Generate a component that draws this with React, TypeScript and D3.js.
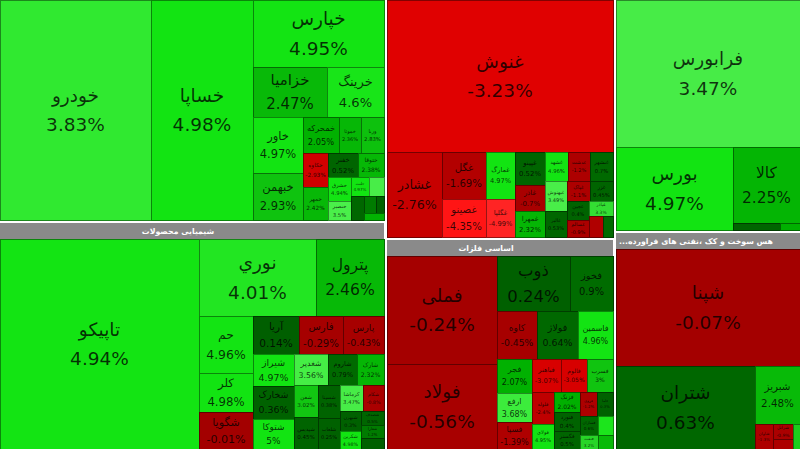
import React, { useEffect } from 'react';
import * as d3 from 'd3';

const W = 800;
const H = 449;
const HEADER_H = 16;

// خودرو و ساخت قطعات
const AUTO_NAMES = ['خودرو', 'خساپا', 'خپارس', 'خزامیا', 'خرینگ', 'خاور', 'خبهمن', 'خمحرکه', 'خموتا', 'ورنا',
  'خکاوه', 'خمهر', 'خفنر', 'ختوقا', 'خشرق', 'خنصیر', 'خلنت', 'خفولا', 'خچرخش', 'خعمرا', 'خریخت', 'خگستر'];
const AUTO_CHANGES = [3.83, 4.98, 4.95, 2.47, 4.6, 4.97, 2.93, 2.05, 2.36, 2.83,
  -2.93, 2.42, 0.52, 2.38, 4.94, 3.5, 4.97, 3.48, 0.61, 1.2, 0.4, 2.1];
const AUTO_WEIGHTS = [33000, 22440, 8777, 3650, 2850, 2750, 2350, 1260, 820, 815,
  810, 780, 700, 600, 575, 450, 330, 300, 300, 200, 150, 130];

// محصولات شیمیایی
const CHEM_NAMES = ['تاپیکو', 'نوري', 'پترول', 'حم', 'کلر', 'شگویا', 'آریا', 'فارس', 'پارس', 'شیراز', 'شخارک', 'شتوکا',
  'شغدیر', 'شاروم', 'شارک', 'شفن', 'شپدیس', 'شسینا', 'شلعاب', 'کرماشا', 'شکام', 'شبهرن', 'شکربن', 'شصدف', 'شفارا', 'شنفت'];
const CHEM_CHANGES = [4.94, 4.01, 2.46, 4.96, 4.98, -0.01, 0.14, -0.29, -0.43, 4.97, 0.36, 5,
  3.56, 0.79, 2.32, 3.02, 0.45, 0.38, 0.25, 3.47, -0.8, 0.3, 4.98, 0.5, 1.2, 0.2];
const CHEM_WEIGHTS = [41580, 9048, 5304, 3050, 2067, 2014, 1702, 1628, 1517, 1350, 1330, 1230,
  1054, 900, 840, 776, 770, 744, 682, 620, 551, 400, 377, 330, 300, 250];

// محصولات غذایی
const FOOD_NAMES = ['غنوش', 'غشادر', 'غگل', 'غصینو', 'غمارگ', 'غگلپا', 'غپینو', 'غاذر', 'غمهرا', 'غشهد', 'غدشت',
  'غبشهر', 'غبهنوش', 'غالبر', 'غپاک', 'غزر', 'غچین', 'غسالم', 'غپاذر', 'غدام', 'غسپه'];
const FOOD_CHANGES = [-3.23, -2.76, -1.69, -4.35, 4.97, -4.99, 0.52, -0.7, 2.32, 4.96, -1.2,
  0.7, 3.49, 0.53, -1.1, 0.45, 0.4, -0.9, 3.3, -1.5, 0.8];
const FOOD_WEIGHTS = [34352, 4675, 2021, 1634, 1363, 1102, 972, 775, 770, 675, 667,
  660, 648, 575, 460, 450, 420, 380, 350, 300, 200];

// فلزات اساسی
const METAL_NAMES = ['فملی', 'فولاد', 'ذوب', 'فخوز', 'کاوه', 'فولاژ', 'فاسمین', 'فجر', 'ارفع', 'فسپا', 'فباهنر',
  'فالوم', 'فسرب', 'فلوله', 'فولای', 'فزنگ', 'فنورد', 'فگستر', 'فروی', 'فاما', 'فسازان', 'فمراد', 'فنفت', 'فرود'];
const METAL_CHANGES = [-0.24, -0.56, 0.24, 0.9, -0.45, 0.64, 4.96, 2.07, 3.68, -1.39, -3.07,
  -3.05, 3, -2.4, 4.95, 2.02, 0.4, 0.5, -1.2, 0.3, 0.6, 4.4, 3.2, 2.5];
const METAL_WEIGHTS = [11988, 9324, 4032, 2408, 1920, 1919, 1680, 1190, 1015, 960, 950,
  884, 850, 720, 551, 513, 500, 450, 400, 380, 350, 300, 250, 200];

// فعالیت های کمکی به نهادهای مالی
const FIN_NAMES = ['فرابورس', 'بورس', 'کالا', 'بفراز', 'انرژی'];
const FIN_CHANGES = [3.47, 4.97, 2.25, 0.5, 2];
const FIN_WEIGHTS = [27200, 9700, 5092, 330, 139];

// فراورده های نفتی
const OIL_NAMES = ['شپنا', 'شتران', 'شبریز', 'شاوان', 'شرانل', 'شبندر', 'شسپا'];
const OIL_CHANGES = [-0.07, 0.63, 2.48, -1.3, -0.9, -1.1, 3.1];
const OIL_WEIGHTS = [21645, 11620, 2610, 450, 300, 200, 175];

// the source map shows its titles word by word left to right, so the words are stored reversed
// and drawn with a forced right-to-left order
const CHEM_TITLE = 'شیمیایی محصولات';
const METAL_TITLE = 'اساسی فلزات';
const OIL_TITLE = 'هس سوخت و کک ،نفتی های فراورده...';

const NEG_STOPS = [-5, -4.3, -3.2, -2.7, -1.5, 0];
const NEG_COLORS = ['#ff2424', '#ff1414', '#df0000', '#c40000', '#b00000', '#a30000'];
const POS_STOPS = [0, 1, 2, 3, 3.5, 4, 5];
const POS_COLORS = ['#005c00', '#006e00', '#00b000', '#10c410', '#4aef4a', '#22e622', '#12e412'];

const negColor = d3.scaleLinear<string>().domain(NEG_STOPS).range(NEG_COLORS).clamp(true);
const posColor = d3.scaleLinear<string>().domain(POS_STOPS).range(POS_COLORS).clamp(true);
const color = (v: number) => (v < 0 ? negColor(v) : posColor(v));

const sector = (title: string, names: string[], changes: number[], weights: number[]) => ({
  title,
  children: names.map((name, i) => ({ name, change: changes[i], value: weights[i] })),
});

const tree = {
  children: [
    { children: [sector('', AUTO_NAMES, AUTO_CHANGES, AUTO_WEIGHTS), sector(CHEM_TITLE, CHEM_NAMES, CHEM_CHANGES, CHEM_WEIGHTS)] },
    { children: [sector('', FOOD_NAMES, FOOD_CHANGES, FOOD_WEIGHTS), sector(METAL_TITLE, METAL_NAMES, METAL_CHANGES, METAL_WEIGHTS)] },
    { children: [sector('', FIN_NAMES, FIN_CHANGES, FIN_WEIGHTS), sector(OIL_TITLE, OIL_NAMES, OIL_CHANGES, OIL_WEIGHTS)] },
  ],
};

const squarify = d3.treemapSquarify.ratio(1);

// columns side by side, sectors stacked (header bands kept out of the value split), stocks squarified
const tile = (node: any, x0: number, y0: number, x1: number, y1: number) => {
  if (node.depth === 0) return d3.treemapDice(node, x0, y0, x1, y1);
  if (node.depth === 1) {
    const bands = d3.sum(node.children, (c: any) => (c.data.title ? HEADER_H : 0));
    const k = (y1 - y0 - bands) / node.value;
    let y = y0;
    for (const c of node.children) {
      c.x0 = x0;
      c.x1 = x1;
      c.y0 = y;
      y += c.value * k + (c.data.title ? HEADER_H : 0);
      c.y1 = y;
    }
    return;
  }
  squarify(node, x0, y0, x1, y1);
};

const fontFor = (w: number, h: number) => Math.min(18.5, w * 0.23, h * 0.3);

export default function App() {
  useEffect(() => {
    document.body.style.margin = '0';
  }, []);

  const root = d3
    .hierarchy<any>(tree)
    .sum((d) => d.value ?? 0)
    .sort((a, b) => (a.depth === 3 ? (b.value ?? 0) - (a.value ?? 0) : 0));

  d3.treemap<any>()
    .size([W, H])
    .tile(tile as any)
    .paddingInner((n) => (n.depth < 2 ? 3 : 0))
    .paddingTop((n) => (n.depth === 2 && n.data.title ? HEADER_H : 0))
    .round(true)(root);

  const leaves = root.leaves() as d3.HierarchyRectangularNode<any>[];
  const sectors = (root.descendants() as d3.HierarchyRectangularNode<any>[]).filter(
    (d) => d.depth === 2 && d.data.title
  );

  return (
    <svg width={W} height={H} style={{ display: 'block', background: '#fff' }}>
      {leaves.map((d, i) => {
        const w = d.x1 - d.x0;
        const h = d.y1 - d.y0;
        const fill = color(d.data.change);
        const fs = fontFor(w, h);
        const cx = (d.x0 + d.x1) / 2;
        const cy = (d.y0 + d.y1) / 2;
        return (
          <g key={i}>
            <rect
              x={d.x0 + 0.5}
              y={d.y0 + 0.5}
              width={w}
              height={h}
              fill={fill}
              stroke={d3.color(fill)!.darker(1.5).formatHex()}
              strokeWidth={1}
            />
            {fs >= 3.5 && (
              <g fontFamily="'DejaVu Sans', sans-serif" fontSize={fs} fill="#000" fillOpacity={0.78} textAnchor="middle">
                <text x={cx} y={cy - fs * 0.8 + fs * 0.35}>{d.data.name}</text>
                <text x={cx} y={cy + fs * 0.8 + fs * 0.35}>{`${d.data.change}%`}</text>
              </g>
            )}
          </g>
        );
      })}
      {sectors.map((s, i) => {
        const truncated = s.data.title.includes('...');
        return (
          <g key={`h${i}`}>
            <rect x={s.x0} y={s.y0} width={s.x1 - s.x0} height={HEADER_H} fill="#8a8a8a" />
            <text
              x={truncated ? s.x0 + 3 : (s.x0 + s.x1) / 2 - 14}
              y={s.y0 + HEADER_H / 2 + 3}
              direction="rtl"
              unicodeBidi="bidi-override"
              textAnchor={truncated ? 'end' : 'middle'}
              fontFamily="'DejaVu Sans', sans-serif"
              fontWeight="bold"
              fontSize={7.8}
              fill="#fff"
            >
              {s.data.title}
            </text>
          </g>
        );
      })}
    </svg>
  );
}
